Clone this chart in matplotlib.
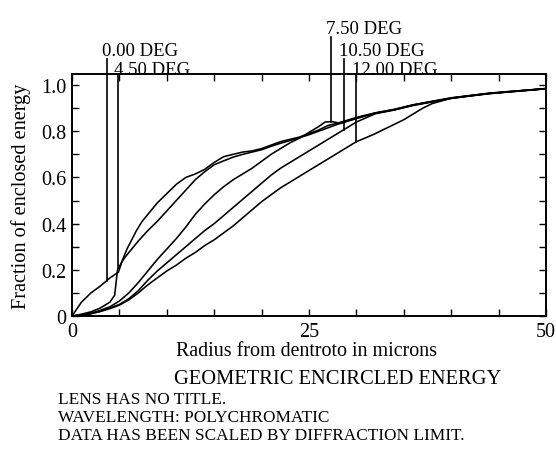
import numpy as np
import matplotlib
matplotlib.use("Agg")
import matplotlib.pyplot as plt
from matplotlib.ticker import MultipleLocator

plt.rcParams["font.family"] = ["Liberation Serif", "DejaVu Serif"]

# encircled energy curves, one per field angle
r_000 = [0, 1, 2, 3, 4, 4.9, 5.3, 5.8, 6.3, 6.8, 7.4, 8, 9, 10, 11, 12, 13, 14, 15, 16,
         17, 18, 19, 20, 21, 22, 23, 24, 25, 26, 27, 28, 30, 32, 34, 36, 38, 40, 42, 44,
         46, 48, 50]
e_000 = [0, 0.06, 0.10, 0.13, 0.165, 0.19, 0.24, 0.29, 0.33, 0.37, 0.41, 0.44, 0.49, 0.53,
         0.57, 0.60, 0.615, 0.635, 0.665, 0.69, 0.70, 0.71, 0.715, 0.725, 0.74, 0.755,
         0.765, 0.775, 0.79, 0.805, 0.825, 0.835, 0.86, 0.88, 0.895, 0.915, 0.93, 0.945,
         0.955, 0.965, 0.972, 0.978, 0.985]

r_450 = [0, 1, 2, 3, 4, 4.5, 4.8, 5.2, 5.6, 6, 6.5, 7, 8, 9, 10, 11, 12, 13, 14, 15, 16,
         17, 18, 19, 20, 21, 22, 23, 24, 25, 26, 27, 28, 30, 32, 34, 36, 38, 40, 42, 44,
         46, 48, 50]
e_450 = [0, 0.008, 0.018, 0.035, 0.06, 0.09, 0.20, 0.23, 0.255, 0.275, 0.30, 0.325, 0.37,
         0.41, 0.455, 0.50, 0.545, 0.59, 0.625, 0.655, 0.672, 0.688, 0.70, 0.71, 0.72,
         0.735, 0.748, 0.76, 0.772, 0.785, 0.80, 0.815, 0.83, 0.855, 0.878, 0.893, 0.913,
         0.928, 0.943, 0.953, 0.963, 0.97, 0.977, 0.984]

r_750 = [0, 1, 2, 3, 4, 5, 6, 7, 8, 9, 10, 11, 12, 13, 14, 15, 16, 17, 18, 19, 20, 21,
         22, 23, 24, 25, 26, 26.7, 27.4, 28.3, 30, 32, 34, 36, 38, 40, 42, 44, 46, 48, 50]
e_750 = [0, 0.004, 0.012, 0.025, 0.04, 0.065, 0.10, 0.145, 0.195, 0.245, 0.29, 0.335,
         0.385, 0.44, 0.485, 0.525, 0.56, 0.59, 0.615, 0.64, 0.67, 0.70, 0.725, 0.75, 0.77,
         0.795, 0.82, 0.84, 0.842, 0.835, 0.857, 0.879, 0.894, 0.914, 0.929, 0.944, 0.954,
         0.964, 0.971, 0.978, 0.985]

r_1050 = [0, 1, 2, 3, 4, 5, 6, 7, 8, 9, 10, 11, 12, 13, 14, 15, 16, 17, 18, 19, 20, 21,
          22, 23, 24, 25, 26, 27, 28, 29, 30, 31, 32, 34, 36, 38, 40, 42, 44, 46, 48, 50]
e_1050 = [0, 0.003, 0.01, 0.02, 0.035, 0.05, 0.075, 0.11, 0.155, 0.195, 0.23, 0.265, 0.30,
          0.335, 0.37, 0.40, 0.435, 0.47, 0.505, 0.54, 0.575, 0.61, 0.64, 0.665, 0.69,
          0.715, 0.74, 0.765, 0.79, 0.815, 0.84, 0.858, 0.876, 0.892, 0.912, 0.927, 0.942,
          0.953, 0.963, 0.97, 0.977, 0.984]

r_1200 = [0, 1, 2, 3, 4, 5, 6, 7, 8, 9, 10, 11, 12, 13, 14, 15, 16, 17, 18, 19, 20, 21,
          22, 23, 24, 25, 26, 27, 28, 29, 30, 31, 32, 33, 34, 35, 36, 37, 38, 40, 42, 44,
          46, 48, 50]
e_1200 = [0, 0.003, 0.01, 0.02, 0.032, 0.047, 0.07, 0.10, 0.135, 0.165, 0.195, 0.22, 0.25,
          0.275, 0.305, 0.33, 0.36, 0.39, 0.425, 0.46, 0.495, 0.525, 0.555, 0.58, 0.605,
          0.63, 0.655, 0.68, 0.705, 0.73, 0.755, 0.772, 0.79, 0.81, 0.83, 0.85, 0.875, 0.9,
          0.92, 0.943, 0.954, 0.964, 0.971, 0.978, 0.985]

radii = [r_000, r_450, r_750, r_1050, r_1200]
energy = [e_000, e_450, e_750, e_1050, e_1200]
field_labels = ["0.00 DEG", "4.50 DEG", "7.50 DEG", "10.50 DEG", "12.00 DEG"]
leader_x = [3.65, 4.9, 27.3, 28.7, 30.0]
y_ticks = [0, 0.2, 0.4, 0.6, 0.8, 1.0]
y_ticklabels = ["0", "0.2", "0.4", "0.6", "0.8", "1.0"]
x_ticks = [0, 25, 50]

# label rows above the frame (baseline in data units) and top of each leader line
label_base = [1.13, 1.05, 1.225, 1.13, 1.05]
leader_top = [1.113, 1.048, 1.208, 1.113, 1.048]

fig = plt.figure(figsize=(5.56, 4.64), dpi=100)
ax = fig.add_axes([72 / 556, 1 - 317 / 464, 474 / 556, 242 / 464])

for r, e in zip(radii, energy):
    ax.plot(r, e, color="black", linewidth=1.15)

for i, lab in enumerate(field_labels):
    y_end = np.interp(leader_x[i], radii[i], energy[i])
    ax.plot([leader_x[i], leader_x[i]], [y_end, leader_top[i]], color="black",
            linewidth=1.2, clip_on=False)
    ax.text(leader_x[i] - 0.5, label_base[i], lab, fontsize=13.5, va="baseline",
            ha="left", clip_on=False)

ax.set_xlim(0, 50)
ax.set_ylim(0, 1.048)
ax.set_xticks(x_ticks)
ax.set_xticklabels([str(t) for t in x_ticks])
ax.set_yticks(y_ticks)
ax.set_yticklabels(y_ticklabels)
ax.xaxis.set_minor_locator(MultipleLocator(5))
ax.yaxis.set_minor_locator(MultipleLocator(0.1))
ax.tick_params(which="both", direction="in", top=True, right=True, length=5,
               width=1.0, labelsize=14.5)
ax.tick_params(axis="x", pad=4)
ax.tick_params(axis="y", pad=4)
for s in ax.spines.values():
    s.set_linewidth(1.4)

ax.set_ylabel("Fraction of enclosed energy", fontsize=14.6)
ax.yaxis.set_label_coords(-41 / 474, 0.5)
fig.text(306 / 556, 1 - 352 / 464, "Radius from dentroto in microns", fontsize=14.4,
         ha="center", va="center")
fig.text(338 / 556, 1 - 380 / 464, "GEOMETRIC ENCIRCLED ENERGY", fontsize=14.8,
         ha="center", va="center")
fig.text(58 / 556, 1 - 400 / 464, "LENS HAS NO TITLE.", fontsize=12.4, ha="left",
         va="center")
fig.text(58 / 556, 1 - 418 / 464, "WAVELENGTH: POLYCHROMATIC", fontsize=12.4, ha="left",
         va="center")
fig.text(58 / 556, 1 - 436 / 464, "DATA HAS BEEN SCALED BY DIFFRACTION LIMIT.",
         fontsize=12.4, ha="left", va="center")

fig.savefig("out.png", dpi=100)
